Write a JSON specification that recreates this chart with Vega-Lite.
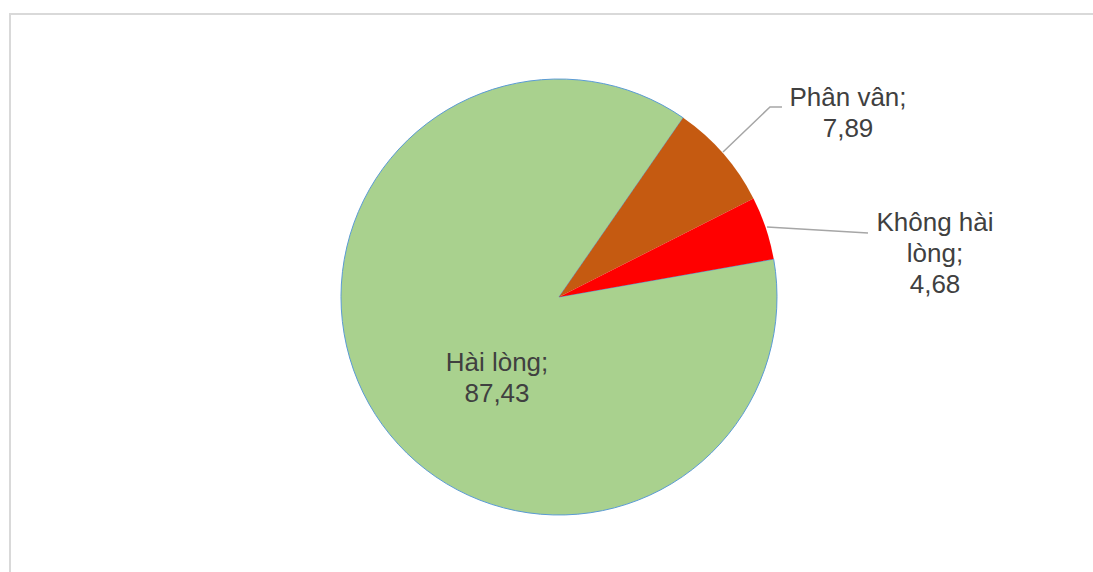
{
  "$schema": "https://vega.github.io/schema/vega-lite/v6.json",
  "autosize": "none",
  "width": 1085,
  "height": 560,
  "padding": {"left": 10, "top": 14, "right": -2, "bottom": -2},
  "background": "#ffffff",
  "config": {"view": {"stroke": "#d9d9d9", "strokeWidth": 2}},
  "datasets": {
    "slices": [
      {"label": "Hài lòng", "value": 87.43, "rank": 1},
      {"label": "Phân vân", "value": 7.89, "rank": 2},
      {"label": "Không hài lòng", "value": 4.68, "rank": 3}
    ],
    "labels": [
      {"text": "Hài lòng;\n87,43", "lx": -0.2844, "ly": -0.3028},
      {"text": "Phân vân;\n7,89", "lx": 1.3257, "ly": 0.9151},
      {"text": "Không hài\nlòng;\n4,68", "lx": 1.7248, "ly": 0.3394}
    ],
    "leaders": [
      {"line": "Phân vân", "step": 1, "lx": 0.7523, "ly": 0.6651},
      {"line": "Phân vân", "step": 2, "lx": 0.9679, "ly": 0.8716},
      {"line": "Phân vân", "step": 3, "lx": 1.0229, "ly": 0.8716},
      {"line": "Không hài lòng", "step": 1, "lx": 0.9541, "ly": 0.3211},
      {"line": "Không hài lòng", "step": 2, "lx": 1.4174, "ly": 0.2936}
    ]
  },
  "layer": [
    {
      "data": {"name": "slices"},
      "mark": {"type": "arc", "outerRadius": 218, "strokeWidth": 1},
      "encoding": {
        "x": {"datum": 0, "type": "quantitative", "scale": {"domain": [-2.5183, 2.4587], "nice": false, "zero": false}, "axis": null},
        "y": {"datum": 0, "type": "quantitative", "scale": {"domain": [-1.2706, 1.2982], "nice": false, "zero": false}, "axis": null},
        "theta": {"field": "value", "type": "quantitative", "stack": true, "scale": {"range": [1.396, 7.679]}},
        "order": {"field": "rank", "type": "quantitative"},
        "color": {
          "field": "label", "type": "nominal", "legend": null,
          "scale": {"domain": ["Hài lòng", "Phân vân", "Không hài lòng"], "range": ["#A9D18E", "#C55A11", "#FF0000"]}
        },
        "stroke": {
          "condition": {"test": "datum.label === 'Hài lòng'", "value": "#5B9BD5"},
          "value": null
        }
      }
    },
    {
      "data": {"name": "leaders"},
      "mark": {"type": "line", "color": "#A6A6A6", "strokeWidth": 1.5},
      "encoding": {
        "x": {"field": "lx", "type": "quantitative"},
        "y": {"field": "ly", "type": "quantitative"},
        "detail": {"field": "line"},
        "order": {"field": "step"}
      }
    },
    {
      "data": {"name": "labels"},
      "mark": {"type": "text", "font": "Liberation Sans", "fontSize": 26, "lineHeight": 31, "lineBreak": "\n", "align": "center", "baseline": "middle", "color": "#404040"},
      "encoding": {
        "x": {"field": "lx", "type": "quantitative"},
        "y": {"field": "ly", "type": "quantitative"},
        "text": {"field": "text"}
      }
    }
  ]
}
